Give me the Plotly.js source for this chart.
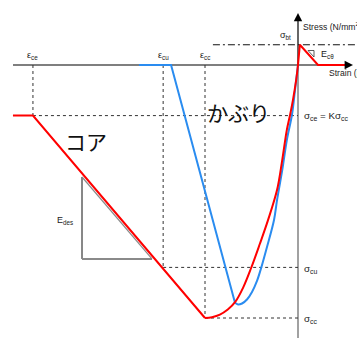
<!DOCTYPE html>
<html>
<head>
<meta charset="utf-8">
<script src="https://cdn.plot.ly/plotly-3.0.1.min.js"></script>
<style>
  html, body { margin: 0; padding: 0; background: #fff; }
  #chart { width: 357px; height: 338px; }
</style>
</head>
<body>
<div id="chart"></div>
<script>
// Schematic stress-strain model of confined (core) and unconfined (cover) concrete.
// Strain in units of 1e-3 (compression negative), stress in N/mm2.

// Characteristic points
const epsCE = -5.7;   // strain at end of descending branch (core)
const epsCU = -2.9;   // ultimate strain of cover
const epsCC = -2.0;   // strain at peak stress (core)
const sigCE = -6;     // residual stress sigma_ce = K * sigma_cc
const sigCU = -24;    // stress at cover ultimate strain
const sigCC = -30;    // peak (confined) stress
const sigBT = 2.4;    // tensile strength

// Core concrete (コア): residual plateau + descending branch
const coreDescStrain = [-6.13, -5.7, -2.0];
const coreDescStress = [-6, -6, -30];
// Core concrete: ascending (curved) branch
const coreAscStrain = [-2.0, -1.85, -1.68, -1.51, -1.35, -1.18, -1.01, -0.82, -0.645, -0.45, -0.34, -0.24, -0.17, -0.11, -0.04, 0];
const coreAscStress = [-30, -29.9, -29.6, -29.0, -28.1, -26.4, -24.1, -21.2, -18.4, -14.8, -11.3, -7.7, -5.9, -4.2, -1.8, 0];
// Tension branch
const tensStrain = [0, 0.04, 0.43, 1.01];
const tensStress = [0, 2.4, 0, 0];

// Cover concrete (かぶり): spalled plateau + descending branch
const coverDescStrain = [-3.42, -2.73, -1.355];
const coverDescStress = [0, 0, -28.2];
// Cover concrete: ascending (curved) branch
const coverAscStrain = [-1.355, -1.29, -1.204, -1.097, -0.989, -0.882, -0.796, -0.667, -0.516, -0.45, -0.34, -0.24, -0.13, -0.065, 0];
const coverAscStress = [-28.2, -28.4, -28.28, -27.81, -26.92, -25.61, -24.13, -21.58, -18.38, -16.0, -12.5, -8.9, -5.9, -3.0, 0];

// Slope marker for the descending branch (E_des)
const edesStrain = [-4.645, -3.14];
const edesStress = [-13.28, -23.0];

// Slope marker for the tension softening branch
const ectStrain = [0.215, 0.344];
const ectStress = [1.72, 0.95];

// Axis extents
const strainMin = -6.13, strainMax = 1.183;
const stressMin = -32.4, stressMax = 6.17;
const btLineStart = -1.83;

const xRange = [-6.4086, 1.2688];
const yRange = [-32.372, 7.7075];

const guide = { color: '#333', width: 1, dash: '3px,3px' };
function line(x, y, style, shape) {
  const s = Object.assign({}, style);
  if (shape) { s.shape = 'spline'; s.smoothing = 1; }
  return { x: x, y: y, mode: 'lines', line: s, hoverinfo: 'skip' };
}

const red = { color: '#ff0000', width: 2 };
const blue = { color: '#2a8cf0', width: 2 };

const traces = [
  // axes
  line([strainMin, strainMax - 0.12], [0, 0], { color: '#000', width: 1.2 }),
  line([0, 0], [0, stressMax - 0.6], { color: '#000', width: 1.2 }),
  line([0, 0], [0, stressMin], { color: '#8a8a8a', width: 1.6 }),
  // guide lines
  line([epsCE, epsCE], [0, sigCE], guide),
  line([epsCE, 0], [sigCE, sigCE], guide),
  line([epsCU, epsCU], [0, sigCU], guide),
  line([epsCU, 0], [sigCU, sigCU], guide),
  line([epsCC, epsCC], [0, sigCC], guide),
  line([epsCC, 0], [sigCC, sigCC], guide),
  line([btLineStart, xRange[1]], [sigBT, sigBT], { color: '#111', width: 1, dash: '7px,3px,2px,3px' }),
  // E_des triangle
  line([edesStrain[0], edesStrain[0]], [edesStress[0], edesStress[1]], { color: '#111', width: 1 }),
  line([edesStrain[0], edesStrain[1]], [edesStress[1], edesStress[1]], { color: '#8a8a8a', width: 2 }),
  line([edesStrain[0], edesStrain[1]], [edesStress[0], edesStress[1]], { color: '#8a8a8a', width: 1.2 }),
  // tension slope marker
  line([ectStrain[0], ectStrain[1], ectStrain[1], ectStrain[0]], [ectStress[0], ectStress[0], ectStress[1], ectStress[0]], { color: '#333', width: 0.8 }),
  // cover curve
  line(coverDescStrain, coverDescStress, blue),
  line(coverAscStrain, coverAscStress, blue, true),
  // core curve
  line(coreDescStrain, coreDescStress, red),
  line(coreAscStrain, coreAscStress, red, true),
  line(tensStrain, tensStress, red)
];

const small = { family: 'Liberation Sans, Arial, sans-serif', size: 9, color: '#222' };
const mid = { family: 'Liberation Sans, Arial, sans-serif', size: 9.8, color: '#222' };
const axisFont = { family: 'Liberation Sans, Arial, sans-serif', size: 8.6, color: '#222' };
const jp = { family: 'Noto Sans CJK JP, sans-serif', size: 21, color: '#111' };

function label(x, y, text, anchor, font) {
  return { x: x, y: y, text: text, showarrow: false, xanchor: anchor || 'center', yanchor: 'middle', font: font || small };
}

const annotations = [
  // axis arrowheads
  { x: strainMax, y: 0, ax: strainMax - 0.16, ay: 0, axref: 'x', ayref: 'y', showarrow: true, text: '',
    arrowhead: 2, arrowsize: 1.4, arrowwidth: 1.2, arrowcolor: '#000', standoff: 0 },
  { x: 0, y: stressMax, ax: 0, ay: stressMax - 0.9, axref: 'x', ayref: 'y', showarrow: true, text: '',
    arrowhead: 2, arrowsize: 1.4, arrowwidth: 1.2, arrowcolor: '#000', standoff: 0 },
  label(0.065, 4.62, 'Stress (N/mm<sup>2</sup>)', 'left', axisFont),
  label(0.624, -0.95, 'Strain (μ)', 'left', axisFont),
  label(-0.26, 3.44, 'σ<sub>bt</sub>'),
  label(0.445, 1.30, 'E<sub>cθ</sub>', 'left'),
  label(epsCE, 1.07, 'ε<sub>ce</sub>'),
  label(epsCU, 1.07, 'ε<sub>cu</sub>'),
  label(epsCC, 1.07, 'ε<sub>cc</sub>'),
  label(0.086, sigCE - 0.1, 'σ<sub>ce</sub> = Kσ<sub>cc</sub>', 'left', mid),
  label(0.086, sigCU - 0.2, 'σ<sub>cu</sub>', 'left', mid),
  label(0.086, sigCC - 0.1, 'σ<sub>cc</sub>', 'left', mid),
  label(-5.02, -18.38, 'E<sub>des</sub>'),
  label(-4.56, -9.01, 'コア', 'center', jp),
  label(-1.29, -5.63, 'かぶり', 'center', jp)
];

const layout = {
  width: 357, height: 338,
  margin: { l: 0, r: 0, t: 0, b: 0, pad: 0 },
  paper_bgcolor: '#fff', plot_bgcolor: '#fff',
  showlegend: false,
  xaxis: { range: xRange, visible: false, fixedrange: true },
  yaxis: { range: yRange, visible: false, fixedrange: true },
  annotations: annotations
};

Plotly.newPlot('chart', traces, layout, { staticPlot: true, displayModeBar: false });
</script>
</body>
</html>
